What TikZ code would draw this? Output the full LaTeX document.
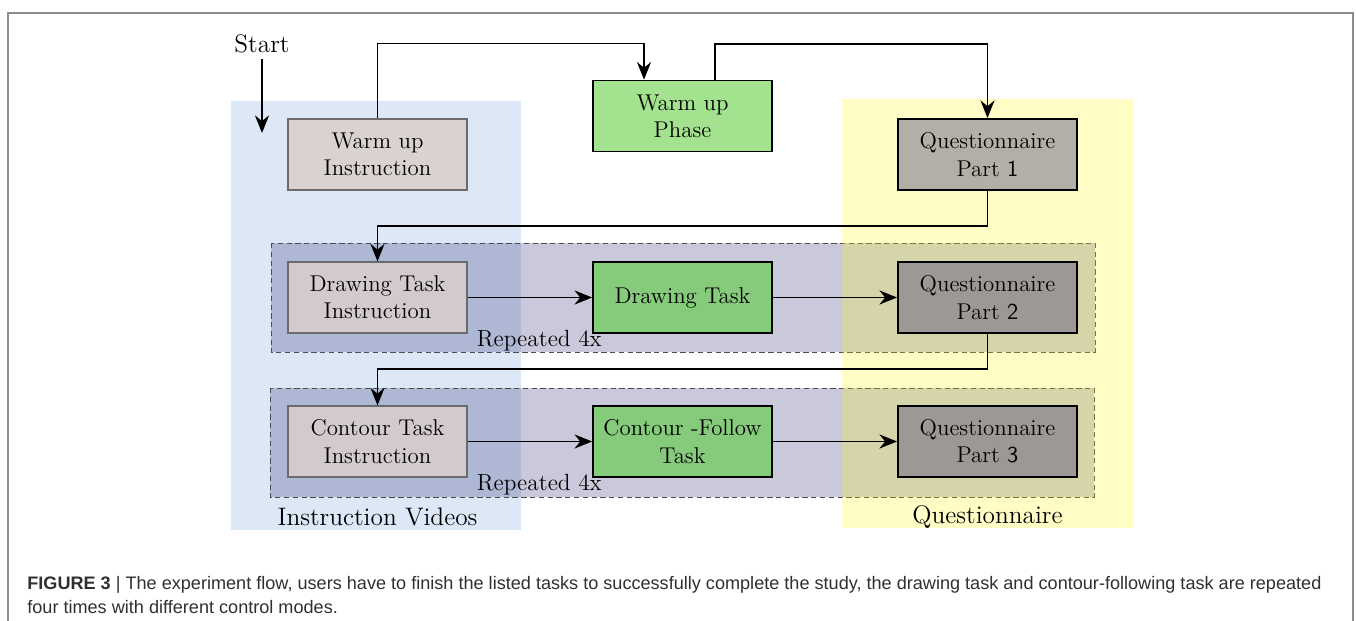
\documentclass[tikz,border=0pt]{standalone}
\usepackage{fontspec}
\usepackage{tikz}
\usetikzlibrary{positioning,arrows,arrows.meta,backgrounds}
\newfontfamily\capfont{Liberation Sans}

\definecolor{instrfill}{HTML}{D9D2D0}
\definecolor{instrfillx}{HTML}{D3CACC}
\definecolor{instrline}{HTML}{6B6B6B}
\definecolor{phasefill}{HTML}{A3E28E}
\definecolor{taskfill}{HTML}{86CA7B}
\definecolor{quesfill}{HTML}{B2AFA6}
\definecolor{quesfillx}{HTML}{9D9893}
\definecolor{vidblue}{HTML}{DCE8F6}
\definecolor{quesyellow}{RGB}{255,243,23}
\definecolor{framegray}{HTML}{8C8C8C}
\definecolor{capgray}{HTML}{303030}

\begin{document}
\begin{tikzpicture}[>={Stealth[length=10pt,width=8pt]},auto,node distance=6.1cm,
                    font=\fontsize{13}{15.5}\selectfont]
  \tikzstyle{instr}=[rectangle,draw=instrline,fill=instrfill,line width=0.6pt,inner sep=1pt,
                     minimum width=3.58cm,minimum height=1.42cm,align=center]
  \tikzstyle{task}=[instr,draw=black,fill=taskfill,line width=1pt]
  \tikzstyle{ques}=[instr,draw=black,fill=quesfillx,line width=1.1pt]
  \tikzstyle{flow}=[->,line width=1.1pt]
  \tikzstyle{loopbox}=[draw=black!70,densely dashed,line width=0.5pt,
                       fill={rgb,255:red,40;green,40;blue,110},fill opacity=0.25]
  \tikzstyle{reps}=[inner sep=0pt,anchor=west,font=\fontsize{13.3}{15.5}\selectfont]
  \tikzstyle{bandlabel}=[font=\fontsize{14.4}{16}\selectfont]

  \useasboundingbox (0,0) rectangle (27.12,-12.42);
  \draw[framegray,line width=0.8pt] (0.16,-12.42) -- (0.16,-0.26) -- (27.06,-0.26) -- (27.06,-12.42);

  \node[bandlabel] (start) at (5.24,-0.88) {Start};
  \coordinate[node distance=1.78cm,below of=start] (go);

  \node[instr]                 (winstr) at (7.55,-3.09)                       {Warm up\\Instruction};
  \node[task,fill=phasefill]   (wphase) [right of=winstr,yshift=0.77cm]       {Warm up\\Phase};
  \node[ques,fill=quesfill]    (q1)     [right of=wphase,yshift=-0.77cm]      {Questionnaire\\Part \textsf{1}};

  \node[instr,fill=instrfillx] (dinstr) [node distance=2.86cm,below of=winstr] {Drawing Task\\Instruction};
  \node[task]                  (dtask)  [right of=dinstr]                     {Drawing Task};
  \node[ques]                  (q2)     [right of=dtask]                      {Questionnaire\\Part \textsf{2}};

  \node[instr,fill=instrfillx] (cinstr) [node distance=2.88cm,below of=dinstr] {Contour Task\\Instruction};
  \node[task]                  (ctask)  [right of=cinstr]                     {Contour -Follow\\Task};
  \node[ques]                  (q3)     [right of=ctask]                      {Questionnaire\\Part \textsf{3}};

  \node[reps] (rep1) at ([xshift=0.18cm,yshift=-0.14cm]dinstr.south east) {Repeated 4x};
  \node[reps] (rep2) at ([xshift=0.18cm,yshift=-0.14cm]cinstr.south east) {Repeated 4x};

  \node[bandlabel] (vidlabel)  [node distance=1.51cm,below of=cinstr] {Instruction Videos};
  \node[bandlabel] (queslabel) [node distance=1.51cm,below of=q3]     {Questionnaire};

  \begin{scope}[on background layer]
    \fill[vidblue] (4.62,-2.02) rectangle (10.42,-10.60);
    \draw[loopbox] (5.42,-4.86) rectangle (21.90,-7.04);
    \draw[loopbox] (5.40,-7.76) rectangle (21.88,-9.94);
    \fill[quesyellow,opacity=0.25] (16.84,-1.98) rectangle (22.66,-10.56);
  \end{scope}

  \draw[flow] (start) -- (go);
  \draw[flow] (winstr.north) -- ++(0,1.5) -| ([xshift=-0.77cm]wphase.north);
  \draw[flow] ([xshift=0.65cm]wphase.north) -- ++(0,0.72) -| (q1.north);
  \draw[flow] (q1.south) -- ++(0,-0.7) -| (dinstr.north);
  \draw[flow] (q2.south) -- ++(0,-0.7) -| (cinstr.north);
  \path[flow] (dinstr) edge (dtask)
              (dtask)  edge (q2)
              (cinstr) edge (ctask)
              (ctask)  edge (q3);

  \node[anchor=north west,align=left,inner sep=0pt,text=capgray,
        font=\capfont\fontsize{10.3}{13.6}\selectfont] (caption) at (0.54,-11.52)
    {\textbf{FIGURE 3} | The experiment flow, users have to finish the listed tasks to successfully complete the study, the drawing task and contour-following task are repeated\\
     four times with different control modes.};
\end{tikzpicture}
\end{document}
